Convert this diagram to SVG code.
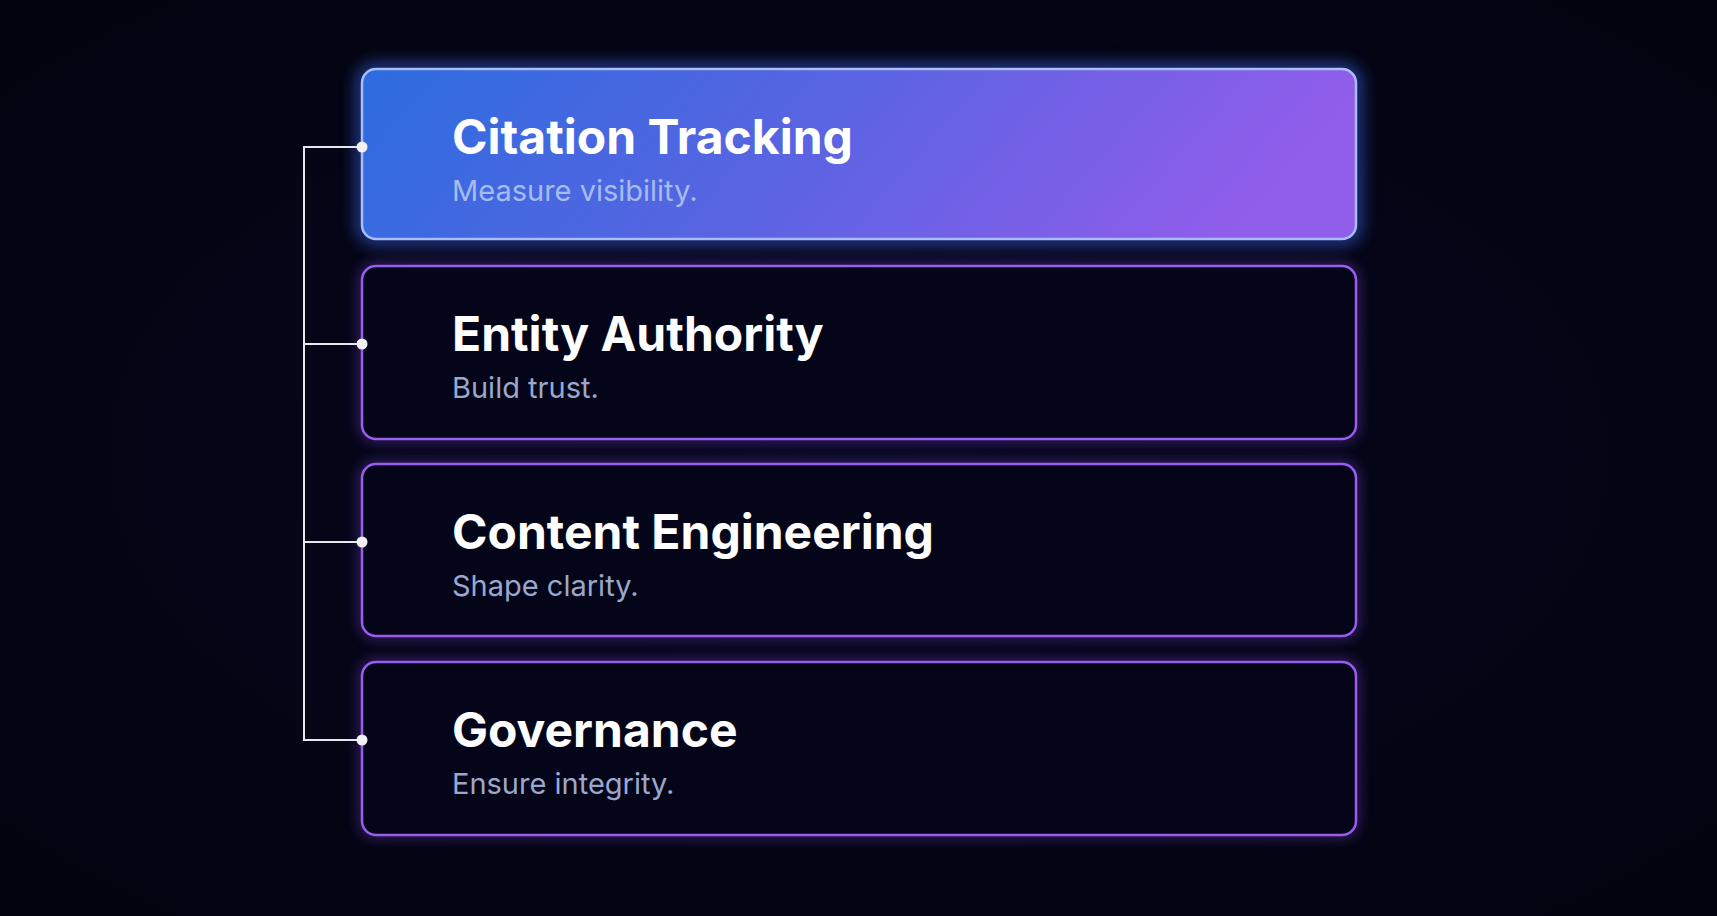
<svg xmlns="http://www.w3.org/2000/svg" width="1717" height="916" viewBox="0 0 1717 916">
<defs>
<linearGradient id="g1" x1="0" y1="0" x2="1" y2="0.15">
<stop offset="0" stop-color="#2c6cdf"/>
<stop offset="0.5" stop-color="#5a64e2"/>
<stop offset="1" stop-color="#915deb"/>
</linearGradient>
<filter id="glowBlue" x="-10%" y="-30%" width="120%" height="160%">
<feGaussianBlur stdDeviation="8"/>
</filter>
<filter id="glowPurple" x="-10%" y="-30%" width="120%" height="160%">
<feGaussianBlur stdDeviation="6"/>
</filter>
<radialGradient id="bg" cx="0.5" cy="0.5" r="0.7">
<stop offset="0" stop-color="#070720"/>
<stop offset="1" stop-color="#03030f"/>
</radialGradient>
<style>
.card{fill:#05051a;stroke:#9b5cf0;stroke-width:2.5}
.glowp{fill:none;stroke:#7a45d8;stroke-width:6;opacity:0.55}
.title{font-family:Inter,"Open Sans","Liberation Sans",sans-serif;font-weight:700;font-size:48px;fill:#ffffff}
.sub{font-family:Inter,"Open Sans","Liberation Sans",sans-serif;font-weight:400;font-size:29px;fill:#9aa8cc}
.sub1{fill:#a6bcee}
.conn{fill:none;stroke:#e6e6ee;stroke-width:2}
.dot{fill:#f0f0f5}
</style>
</defs>
<rect width="1717" height="916" fill="url(#bg)"/>

<g id="node-citation-tracking">
<rect x="362" y="69" width="994" height="170" rx="14" fill="none" stroke="#3f6dff" stroke-width="10" opacity="0.7" filter="url(#glowBlue)"/>
<rect x="362" y="69" width="994" height="170" rx="14" fill="url(#g1)" stroke="#a9bdfb" stroke-width="2.5"/>
<text class="title" x="452" y="154">Citation Tracking</text>
<text class="sub sub1" x="452" y="201">Measure visibility.</text>
</g>

<g id="node-entity-authority">
<rect class="glowp" x="362" y="266" width="994" height="173" rx="14" filter="url(#glowPurple)"/>
<rect class="card" x="362" y="266" width="994" height="173" rx="14"/>
<text class="title" x="452" y="351">Entity Authority</text>
<text class="sub" x="452" y="398">Build trust.</text>
</g>

<g id="node-content-engineering">
<rect class="glowp" x="362" y="464" width="994" height="172" rx="14" filter="url(#glowPurple)"/>
<rect class="card" x="362" y="464" width="994" height="172" rx="14"/>
<text class="title" x="452" y="549">Content Engineering</text>
<text class="sub" x="452" y="596">Shape clarity.</text>
</g>

<g id="node-governance">
<rect class="glowp" x="362" y="662" width="994" height="173" rx="14" filter="url(#glowPurple)"/>
<rect class="card" x="362" y="662" width="994" height="173" rx="14"/>
<text class="title" x="452" y="747">Governance</text>
<text class="sub" x="452" y="794">Ensure integrity.</text>
</g>

<g id="connectors">
<path class="conn" d="M362 147 H304 V740 H362"/>
<path class="conn" d="M304 344 H362"/>
<path class="conn" d="M304 542 H362"/>
<circle class="dot" cx="362" cy="147" r="5.5"/>
<circle class="dot" cx="362" cy="344" r="5.5"/>
<circle class="dot" cx="362" cy="542" r="5.5"/>
<circle class="dot" cx="362" cy="740" r="5.5"/>
</g>
</svg>
